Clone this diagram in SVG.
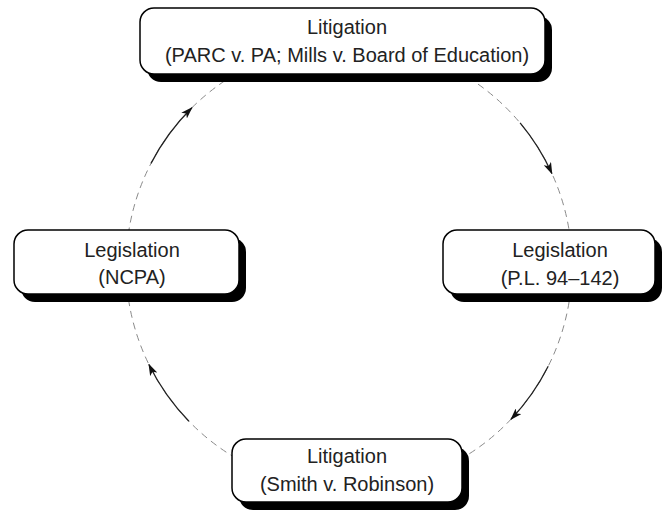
<svg xmlns="http://www.w3.org/2000/svg" width="669" height="512" viewBox="0 0 669 512">
  <style>
    .shadow { fill: #000; }
    .box { fill: #fff; stroke: #000; stroke-width: 1.5; }
    .label { font-family: "Liberation Sans", Arial, Helvetica, sans-serif; font-size: 20px; fill: #222; text-anchor: middle; }
    .ring { fill: none; stroke: #8a8a8a; stroke-width: 1; stroke-dasharray: 7 5; }
    .flow { fill: none; stroke: #222; stroke-width: 1.3; marker-end: url(#arrow); }
  </style>
  <defs>
    <marker id="arrow" viewBox="0 0 12 8" refX="11" refY="4" markerWidth="12" markerHeight="8" markerUnits="userSpaceOnUse" orient="auto">
      <path d="M0,0 L12,4 L0,8 L3,4 z" fill="#111"/>
    </marker>
  </defs>

  <g id="connectors">
    <circle class="ring" cx="349" cy="266" r="223"/>
    <path class="flow" d="M151.0,163.4 A223,223 0 0 1 191.9,107.8"/>
    <path class="flow" d="M520.1,122.9 A223,223 0 0 1 551.9,173.5"/>
    <path class="flow" d="M548.2,366.2 A223,223 0 0 1 511.0,419.2"/>
    <path class="flow" d="M188.9,421.2 A223,223 0 0 1 148.9,364.5"/>
  </g>

  <g id="node-top">
    <rect class="shadow" x="147" y="16" width="405" height="66" rx="14"/>
    <rect class="box" x="140" y="8" width="405" height="66" rx="14"/>
    <text class="label" x="347" y="34">Litigation</text>
    <text class="label" x="347" y="62">(PARC v. PA; Mills v. Board of Education)</text>
  </g>

  <g id="node-left">
    <rect class="shadow" x="21" y="238" width="225" height="64" rx="14"/>
    <rect class="box" x="14" y="230" width="225" height="64" rx="14"/>
    <text class="label" x="132" y="257">Legislation</text>
    <text class="label" x="132" y="284">(NCPA)</text>
  </g>

  <g id="node-right">
    <rect class="shadow" x="450" y="238" width="212" height="64" rx="14"/>
    <rect class="box" x="443" y="230" width="212" height="64" rx="14"/>
    <text class="label" x="560" y="257">Legislation</text>
    <text class="label" x="560" y="285">(P.L. 94–142)</text>
  </g>

  <g id="node-bottom">
    <rect class="shadow" x="239" y="447" width="230" height="63" rx="14"/>
    <rect class="box" x="232" y="439" width="230" height="63" rx="14"/>
    <text class="label" x="347" y="463">Litigation</text>
    <text class="label" x="347" y="491">(Smith v. Robinson)</text>
  </g>
</svg>
